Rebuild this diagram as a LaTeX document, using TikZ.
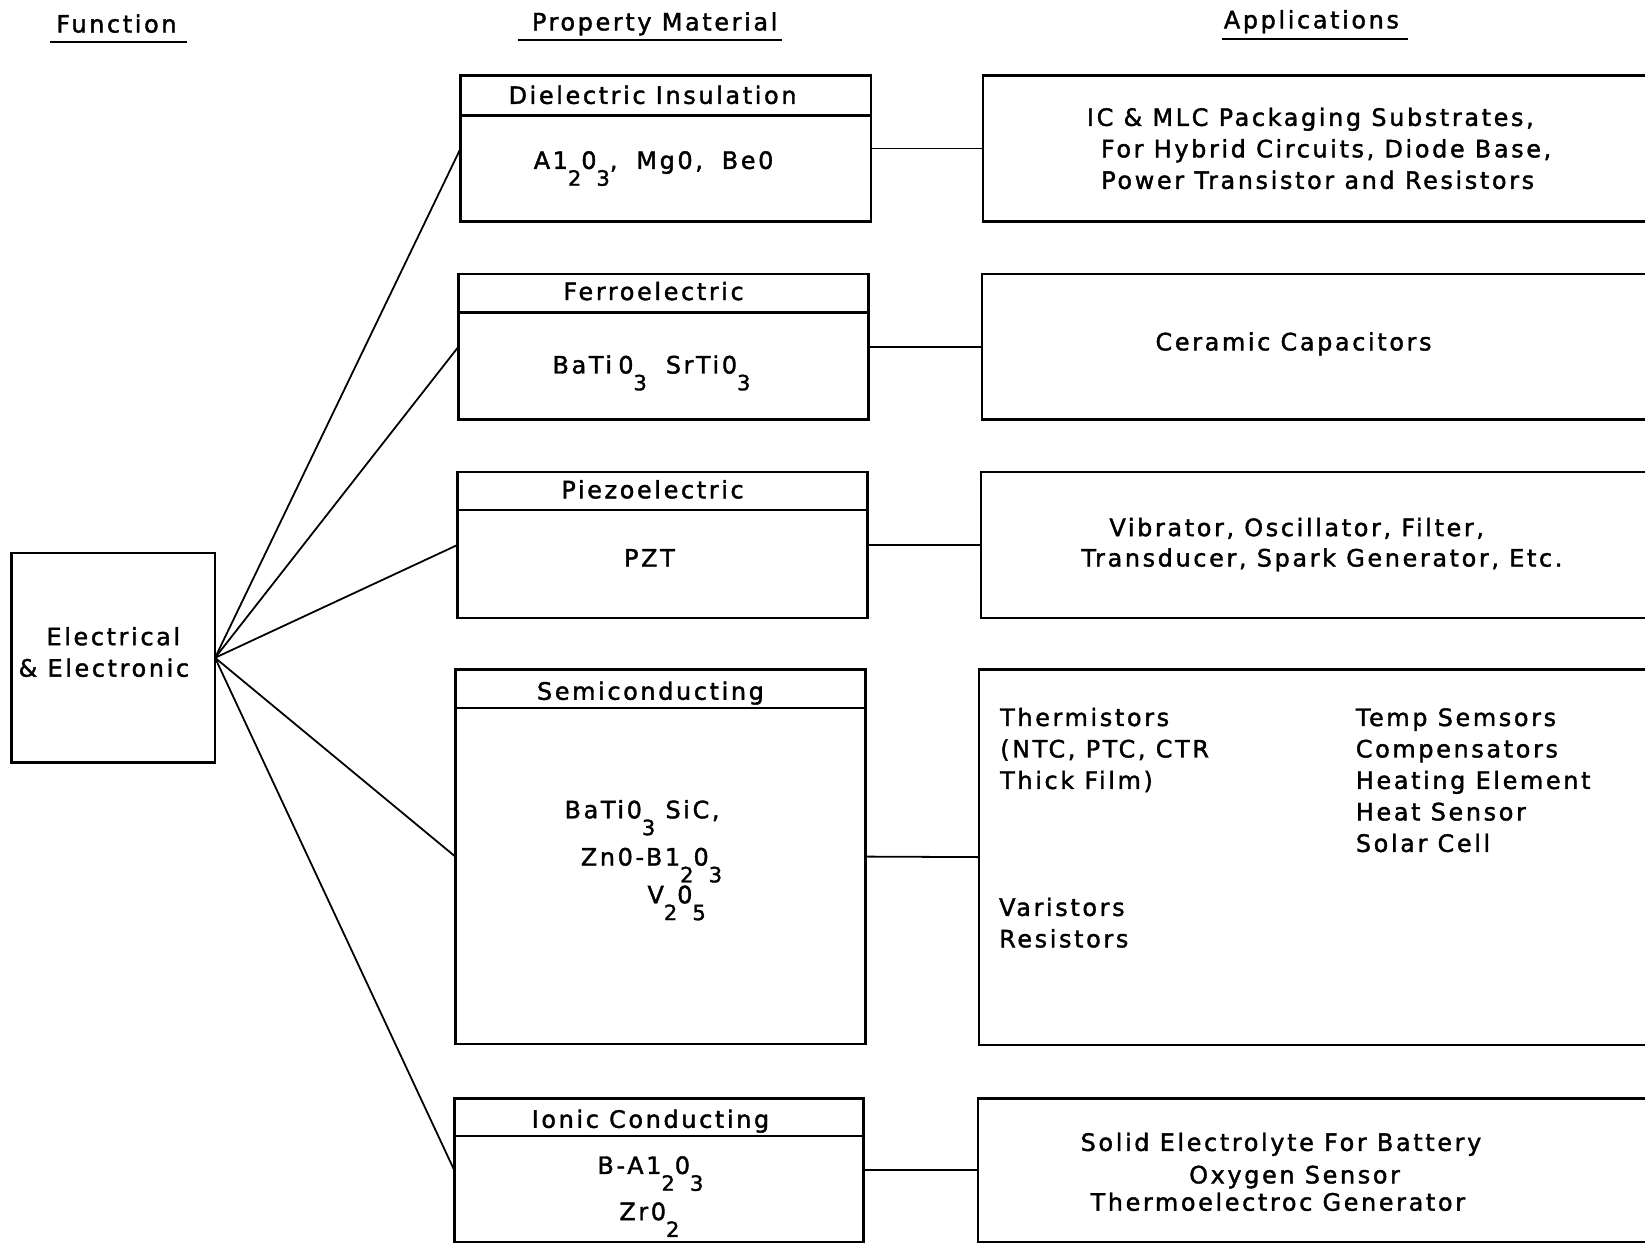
\documentclass[tikz,border=0pt]{standalone}
\usepackage{fontspec}
\setmainfont{DejaVu Sans}[LetterSpace=11,FakeBold=1.6]
\usetikzlibrary{fit,calc}
% lowered subscript digits as in the typed chart
\newcommand\sbs[1]{\raisebox{-8pt}{\fontsize{10}{10}\selectfont #1}}
% widened word gap of the typed formulas
\newcommand\wsp{\hspace{9pt}}

\begin{document}
\begin{tikzpicture}[x=0.5pt,y=-0.5pt,
  txt/.style={inner sep=0pt, anchor=base, font=\fontsize{11.4}{15}\selectfont},
  ltxt/.style={txt, anchor=base west},
  box/.style={draw, line width=1.2pt, inner sep=0pt, outer sep=0pt},
  divider/.style={line width=1.1pt},
  link/.style={line width=0.85pt},
  rule/.style={line width=1pt}]
\useasboundingbox (0,0) rectangle (1568,1186);

% column headings
\node[txt] (hF) at (111,31) {Function};
\node[txt] (hP) at (624,29) {Property Material};
\node[txt] (hA) at (1250,27) {Applications};
\draw[rule] (48,40) -- (178,40);
\draw[rule] (494,38) -- (745,38);
\draw[rule] (1165,37) -- (1342,37);

% function box
\node[box, fit={(11,527) (205,727)}] (E) {};
\node[txt] (E1) at (108,615) {Electrical};
\node[txt] (E2) at (99,645) {\& Electronic};

% property / material boxes
\node[box, fit={(439,72) (830,211)}] (m1) {};
\node[box, fit={(437,261) (828,400)}] (m2) {};
\node[box, fit={(436,450) (827,589)}] (m3) {};
\node[box, fit={(434,638) (825,995)}] (m4) {};
\node[box, fit={(433,1047) (823,1184)}] (m5) {};
\foreach \i/\d in {1/38,2/37,3/36,4/37,5/36}
  \draw[divider] ($(m\i.north west)+(0,\d)$) -- ($(m\i.north east)+(0,\d)$);

\node[txt] (t1) at (622,99) {Dielectric Insulation};
\node[txt] (t2) at (623,286) {Ferroelectric};
\node[txt] (t3) at (622,475) {Piezoelectric};
\node[txt] (t4) at (620,667) {Semiconducting};
\node[txt] (t5) at (620,1075) {Ionic Conducting};

\node[txt] (b1) at (623,161) {A1\sbs{2}0\sbs{3},\wsp{}Mg0,\wsp{}Be0};
\node[txt] (b2) at (621,356) {BaTi\hspace{3pt}0\sbs{3}\wsp{}SrTi0\sbs{3}};
\node[txt] (b3) at (619,540) {PZT};
\node[txt] (b4a) at (612,780) {BaTi0\sbs{3} SiC,};
\node[txt] (b4b) at (621,825) {Zn0-B1\sbs{2}0\sbs{3}};
\node[txt] (b4c) at (645,861) {V\sbs{2}0\sbs{5}};
\node[txt] (b5a) at (620,1119) {B-A1\sbs{2}0\sbs{3}};
\node[txt] (b5b) at (619,1163) {Zr0\sbs{2}};

% application boxes (running past the right edge)
\node[box, fit={(937,72) (1600,211)}] (a1) {};
\node[box, fit={(936,261) (1600,400)}] (a2) {};
\node[box, fit={(935,450) (1600,589)}] (a3) {};
\node[box, fit={(933,638) (1600,996)}] (a4) {};
\node[box, fit={(932,1047) (1600,1184)}] (a5) {};

\node[txt] (p1a) at (1249,120) {IC \& MLC Packaging Substrates,};
\node[txt] (p1b) at (1264,150) {For Hybrid Circuits, Diode Base,};
\node[txt] (p1c) at (1256,180) {Power Transistor and Resistors};
\node[txt] (p2) at (1233,334) {Ceramic Capacitors};
\node[txt] (p3a) at (1236,511) {Vibrator, Oscillator, Filter,};
\node[txt] (p3b) at (1260,540) {Transducer, Spark Generator, Etc.};
\foreach \t [count=\k] in {Thermistors,{(NTC, PTC, CTR},{Thick Film)}}
  \node[ltxt] (p4l\k) at (953,662+30*\k) {\t};
\foreach \t [count=\k] in {Temp Semsors,Compensators,Heating Element,Heat Sensor,Solar Cell}
  \node[ltxt] (p4r\k) at (1292,662+30*\k) {\t};
\node[ltxt] (p4v) at (952,873) {Varistors};
\node[ltxt] (p4s) at (952,903) {Resistors};
\node[txt] (p5a) at (1221,1097) {Solid Electrolyte For Battery};
\node[txt] (p5b) at (1234,1128) {Oxygen Sensor};
\node[txt] (p5c) at (1218,1154) {Thermoelectroc Generator};

% connectors
\foreach \i in {1,...,5} {
  \draw[link] (E.east) -- (m\i.west);
  \draw[link] (m\i.east) -- (a\i.west);
}
\end{tikzpicture}
\end{document}
